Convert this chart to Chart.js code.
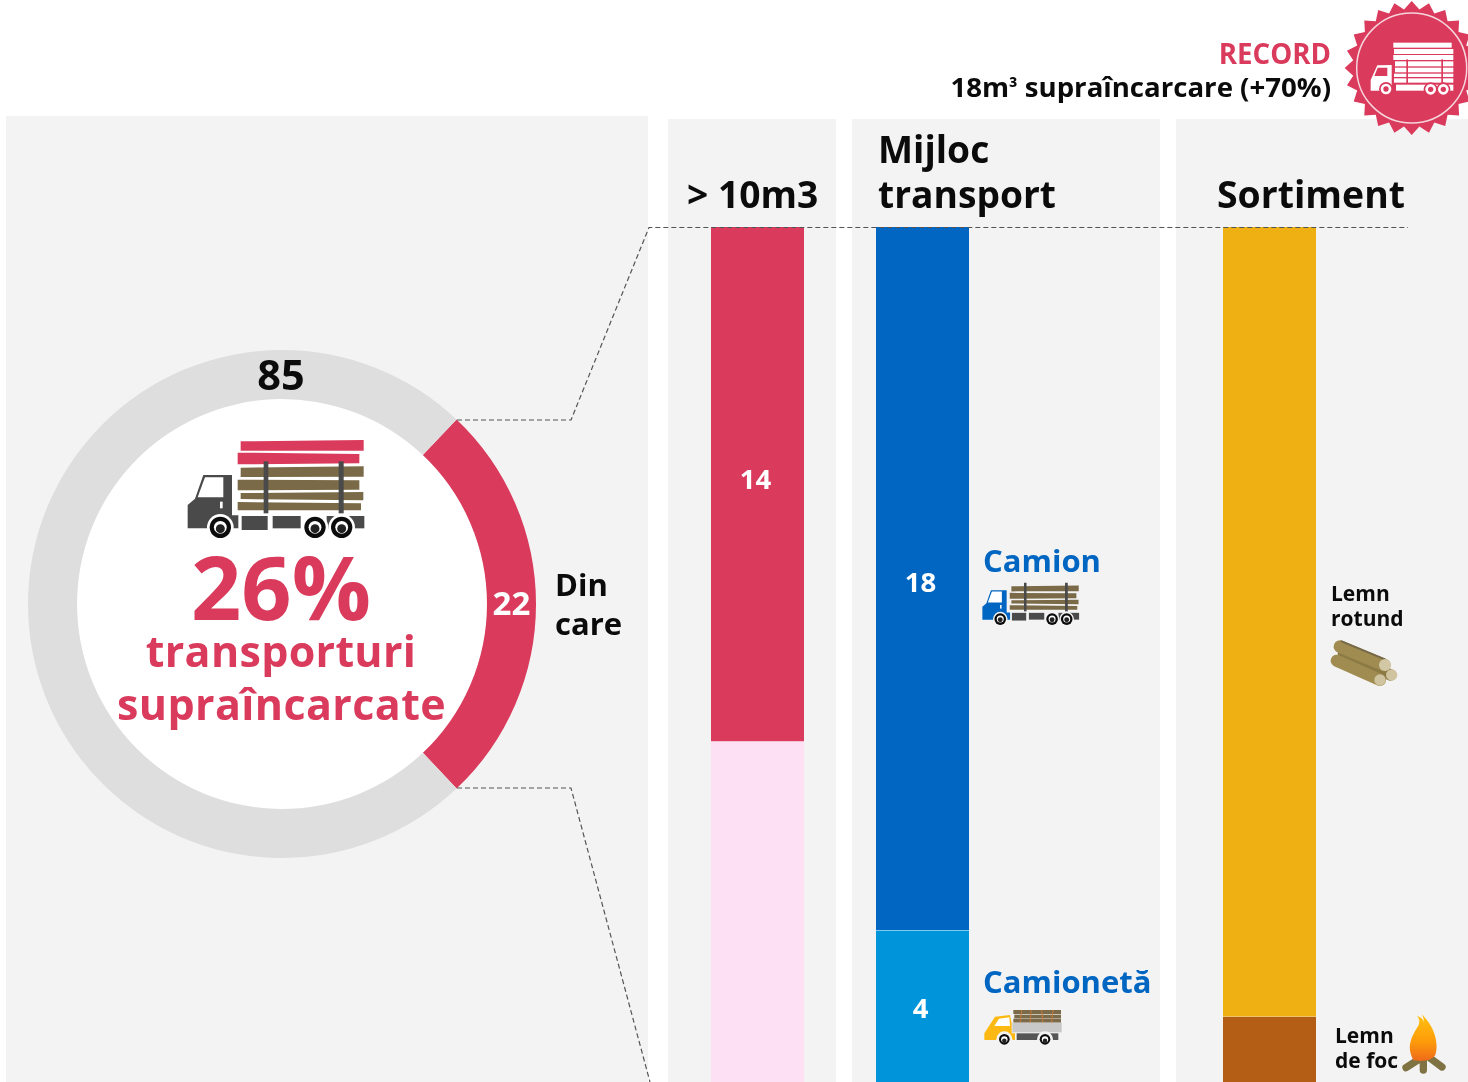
<!DOCTYPE html>
<html lang="ro"><head><meta charset="utf-8">
<title>Transporturi supraîncarcate</title>
<script src="https://cdn.jsdelivr.net/npm/chart.js@4"></script>
<style>
html,body{margin:0;padding:0;background:#fff;width:1468px;height:1082px;overflow:hidden;font-family:"Open Sans",sans-serif}
.panel{position:absolute;background:#f3f3f3}
#hole{position:absolute;left:77px;top:399px;width:410px;height:410px;border-radius:50%;background:#fff}
canvas{position:absolute;display:block}
svg{position:absolute;left:0;top:0}
.t{position:absolute;white-space:nowrap;line-height:1;transform:translateY(-50%)}
</style></head><body>
<div class="panel" style="left:6px;top:116px;width:642px;height:966px"></div>
<div class="panel" style="left:668px;top:119px;width:168px;height:963px"></div>
<div class="panel" style="left:852px;top:119px;width:308px;height:963px"></div>
<div class="panel" style="left:1176px;top:119px;width:292px;height:963px"></div>
<div id="hole"></div>
<canvas id="donut" width="560" height="560" style="left:2px;top:324px"></canvas>
<canvas id="bar1" width="93" height="855" style="left:711px;top:227px"></canvas>
<canvas id="bar2" width="93" height="855" style="left:876px;top:227px"></canvas>
<canvas id="bar3" width="93" height="855" style="left:1223px;top:227px"></canvas>
<svg id="art" width="1468" height="1082" viewBox="0 0 1468 1082" xmlns="http://www.w3.org/2000/svg"></svg>
<div id="labels"></div>
<script>
// ---- data ----
const donutValues = [22, 63];
const donutLabels = ["22", "85"];
const moreThan10Values = [14, 9.3];
const moreThan10Labels = ["14", ""];
const transportValues = [18, 4];
const transportLabels = ["18", "4"];
const assortmentValues = [20, 2];
const assortmentLabels = ["", ""];
// ---- styles ----
const RED = "#da3a5b", GREY = "#dedede", PINK = "#fde0f4", BLUE = "#0066c2",
      SKY = "#0095da", AMBER = "#efb014", BROWN = "#b35e14";

const valueLabels = {
  id: "valueLabels",
  afterDatasetsDraw(chart, args, opts) {
    const ctx = chart.ctx;
    ctx.save();
    ctx.fillStyle = "#fff";
    ctx.textAlign = "center";
    ctx.textBaseline = "middle";
    ctx.font = "700 " + opts.size + "px 'Open Sans'";
    if (chart.config.type === "doughnut") {
      const p = chart.getDatasetMeta(0).data[0].getCenterPoint();
      ctx.fillText(opts.texts[0], p.x, p.y + opts.dy[0]);
    } else {
      chart.data.datasets.forEach((d, i) => {
        const text = opts.texts[i];
        if (!text) return;
        const b = chart.getDatasetMeta(i).data[0];
        const top = Math.min(b.y, b.base);
        const end = Math.min(Math.max(b.y, b.base), chart.chartArea.bottom);
        ctx.fillText(text, b.x - 2, (top + end) / 2 + opts.dy[i]);
      });
    }
    ctx.restore();
  }
};

new Chart(document.getElementById("donut"), {
  type: "doughnut",
  data: { labels: donutLabels, datasets: [{ data: donutValues, backgroundColor: [RED, GREY], borderWidth: 0 }] },
  options: {
    responsive: false, animation: false, devicePixelRatio: 1,
    rotation: 43.4, cutout: "80.7%", radius: 254,
    plugins: { legend: { display: false }, tooltip: { enabled: false }, valueLabels: { texts: ["22"], size: 33, dy: [2] } }
  },
  plugins: [valueLabels]
});

function stack(id, values, colors, texts, yMax, dy) {
  new Chart(document.getElementById(id), {
    type: "bar",
    data: {
      labels: [id],
      datasets: values.map((v, i) => ({
        data: [v], backgroundColor: colors[i], borderColor: "#fff", borderSkipped: false,
        borderWidth: { top: i ? 1 : 0, left: 0, right: 0, bottom: 0 },
        barPercentage: 1, categoryPercentage: 1
      }))
    },
    options: {
      responsive: false, animation: false, devicePixelRatio: 1,
      layout: { padding: 0 },
      scales: {
        x: { stacked: true, display: false },
        y: { stacked: true, display: false, reverse: true, min: 0, max: yMax }
      },
      plugins: { legend: { display: false }, tooltip: { enabled: false }, valueLabels: { texts, size: 27.5, dy } }
    },
    plugins: [valueLabels]
  });
}
stack("bar1", moreThan10Values, [RED, PINK], moreThan10Labels, 23.29, [-3, 0]);
stack("bar2", transportValues, [BLUE, SKY], transportLabels, 21.9, [6, 4]);
stack("bar3", assortmentValues, [AMBER, BROWN], assortmentLabels, 21.67, [0, 0]);

// ---- text ----
const INK = "#0b0b0b";
const texts = [
  ["RECORD", 1331, 54, 27.7, 700, RED, "r", 0],
  ["18m|³| supraîncarcare (+70%)", 1331, 87, 27.6, 700, INK, "r", 0],
  ["85", 281, 375, 41.5, 700, INK, "c", 0],
  ["26%", 281, 586, 88, 700, RED, "c", 0],
  ["transporturi", 281, 650, 43, 700, RED, "c", .3],
  ["supraîncarcate", 281.5, 703, 43, 700, RED, "c", .4],
  ["Din", 555, 584, 31, 700, INK, "l", 0],
  ["care", 555, 623, 31, 700, INK, "l", 0],
  ["> 10m3", 687, 194, 37.2, 700, INK, "l", 0],
  ["Mijloc", 878, 149, 37.2, 700, INK, "l", 0],
  ["transport", 878, 194, 37.2, 700, INK, "l", 0],
  ["Sortiment", 1217, 194, 37.4, 700, INK, "l", 0],
  ["Camion", 983, 560, 31, 700, BLUE, "l", 0],
  ["Camionetă", 983, 981, 31, 700, BLUE, "l", 0],
  ["Lemn", 1331, 593, 21, 700, INK, "l", 0],
  ["rotund", 1331, 618, 21, 700, INK, "l", 0],
  ["Lemn", 1335, 1035, 21, 700, INK, "l", 0],
  ["de foc", 1335, 1060, 21, 700, INK, "l", 0]
];
const host = document.getElementById("labels");
texts.forEach(([s, x, y, size, w, c, anchor, ls]) => {
  const d = document.createElement("div");
  d.className = "t";
  const parts = s.split("|");
  if (parts.length === 3) {
    d.append(parts[0]);
    const small = document.createElement("span");
    small.style.cssText = "font-size:82%;position:relative;top:-1px";
    small.textContent = parts[1];
    d.append(small, parts[2]);
  } else d.textContent = s;
  d.style.cssText = `font-size:${size}px;font-weight:${w};color:${c};letter-spacing:${ls}px;top:${y}px;` +
    (anchor === "l" ? `left:${x}px` : anchor === "r" ? `right:${1468 - x}px` : `left:${x}px;transform:translate(-50%,-50%)`);
  host.appendChild(d);
});

// ---- decoration: leader lines and icons ----
function wheel(x, y, r, ring) {
  return `<circle cx="${x}" cy="${y}" r="${r + 8}" fill="${ring}"/><circle cx="${x}" cy="${y}" r="${r}" fill="#0c0c0c"/>` +
    `<circle cx="${x}" cy="${y}" r="${r * .6}" fill="#fff"/><circle cx="${x}" cy="${y + 4}" r="${r * .42}" fill="#222"/>`;
}
function rect(x, y, w, h, f) { return `<rect x="${x}" y="${y}" width="${w}" height="${h}" fill="${f}"/>`; }
function poly(p, f) { return `<polygon points="${p}" fill="${f}"/>`; }
function loadedTruck(cab, ring) {
  const L = "#7a6a48", D = "#4a4a4a";
  return poly("212,143 581,139 581,170 212,171", L) + poly("203,179 568,181 568,209 203,211", L) +
    poly("212,219 580,216 580,241 212,237", L) + poly("203,246 573,250 573,271 203,271", L) +
    rect(281, 124, 14, 156, D) + rect(506, 124, 15, 156, D) +
    rect(215, 288, 78, 42, D) + rect(308, 288, 84, 37, D) + rect(470, 288, 113, 37, D) +
    poly("53,255 75,236 100,165 186,165 186,286 205,286 205,325 53,325", cab) +
    poly("105,172 160,172 160,232 83,232", "#fff") + rect(150, 245, 8, 20, "#fff") +
    wheel(151, 322, 32, ring) + wheel(435, 322, 32, ring) + wheel(515, 322, 32, ring);
}
let art = `<g fill="none" stroke="#555" stroke-width="1.2" stroke-dasharray="5 3">
  <path d="M457 420H571L649 227.5H1408"/><path d="M457 788H571L650 1082"/></g>`;
// main truck (zoom coordinates, 3x)
art += `<g transform="translate(170 420) scale(${1 / 3})">` +
  poly("212,64 581,60 581,92 212,92", RED) + poly("203,98 568,102 568,130 203,133", RED) +
  loadedTruck("#4a4a4a", "#fff") + `</g>`;
// blue truck
art += `<g transform="translate(972.7 560) scale(.1825 .1835)">` + loadedTruck(BLUE, "#f3f3f3") + `</g>`;
// yellow truck
art += `<g transform="translate(975 1000) scale(${1 / 3})">` +
  rect(115, 30, 143, 12, "#7a6a48") + rect(118, 44, 140, 11, "#7a6a48") + rect(115, 56, 143, 12, "#7a6a48") +
  `<g stroke="#c9793a" stroke-width="3"><path d="M140 30L135 68M168 30L165 68M200 30L204 68M234 30L230 68"/></g>` +
  rect(112, 68, 148, 29, "#c8c8c8") + rect(125, 100, 125, 20, "#555") +
  poly("28,118 28,100 60,50 105,45 110,70 110,100 120,100 120,120 28,120", "#fdb913") +
  poly("58,78 72,56 103,52 105,78", "#fff") +
  wheel(88, 118, 16, "#f3f3f3") + wheel(210, 118, 16, "#f3f3f3") + `</g>`;
// badge
const cx = 1411.7, cy = 68, teeth = 24;
let pts = [];
for (let i = 0; i < teeth * 2; i++) {
  const r = i % 2 ? 59 : 67, a = i * Math.PI / teeth - Math.PI / 2;
  pts.push((cx + r * Math.cos(a)).toFixed(1) + "," + (cy + r * Math.sin(a)).toFixed(1));
}
art += `<polygon points="${pts.join(" ")}" fill="${RED}"/><circle cx="${cx}" cy="${cy}" r="55" fill="none" stroke="#f6d5dc" stroke-width="1.5"/>`;
art += `<g transform="translate(1340 0) scale(${1 / 3})">` +
  rect(160, 128, 175, 15, "#fff") + rect(162, 147, 178, 15, "#fff") + rect(160, 165, 180, 15, "#fff") +
  rect(165, 184, 175, 15, "#fff") + rect(165, 203, 175, 14, "#fff") + rect(162, 221, 178, 10, "#fff") + rect(162, 235, 178, 13, "#fff") +
  rect(199, 178, 5, 75, RED) + rect(304, 178, 5, 75, RED) +
  rect(168, 254, 172, 18, "#fff") +
  poly("92,240 112,196 155,195 155,272 92,272", "#fff") + poly("113,203 142,203 142,228 103,228", RED) +
  [[138, 267], [272, 268], [310, 268]].map(([x, y]) =>
    `<circle cx="${x}" cy="${y}" r="21" fill="${RED}"/><circle cx="${x}" cy="${y}" r="16" fill="#fff"/><circle cx="${x}" cy="${y}" r="8" fill="${RED}"/>`).join("") +
  `</g>`;
// logs
art += `<g transform="translate(1320 630) scale(${1 / 3})" stroke-linecap="round" fill="none">
  <path d="M70 72L212 135" stroke="#8c7a45" stroke-width="34"/>
  <path d="M60 50L193 105" stroke="#a08c50" stroke-width="38"/>
  <path d="M65 34L195 88" stroke="#75694a" stroke-width="6"/>
  <path d="M50 92L180 150" stroke="#a08c50" stroke-width="36"/>
  <g stroke="none"><circle cx="215" cy="135" r="17" fill="#cfc3a0"/>
  <circle cx="195" cy="105" r="18" fill="#d3c8a6"/><circle cx="180" cy="150" r="17" fill="#cfc3a0"/></g></g>`;
// fire
art += `<defs><linearGradient id="fl" x1="0" y1="0" x2="0" y2="1"><stop offset="0" stop-color="#ffc20e"/><stop offset=".6" stop-color="#fd9a0a"/><stop offset="1" stop-color="#ee6a1a"/></linearGradient></defs>
<g transform="translate(1390 1005) scale(${1 / 3})">
  <g stroke="#7f7343" stroke-width="22" stroke-linecap="round"><path d="M48 188L95 158M100 195V160M156 186L110 152"/></g>
  <path d="M70 165C50 130 60 100 85 62C90 52 88 42 82 32C95 38 100 44 102 52C102 42 99 35 95 28C130 60 148 110 136 150C125 170 85 170 70 165Z" fill="url(#fl)"/></g>`;
document.getElementById("art").innerHTML = art;
</script>
</body></html>
